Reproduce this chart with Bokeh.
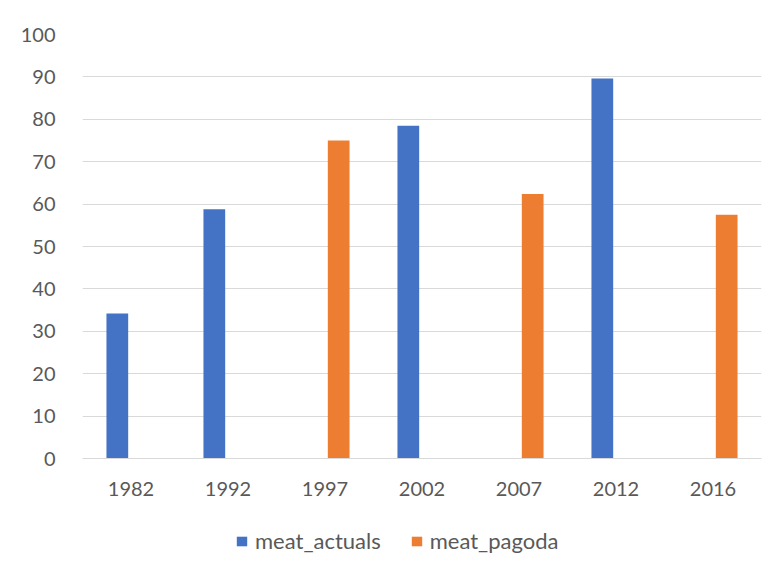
from bokeh.plotting import figure
from bokeh.layouts import column
from bokeh.models import ColumnDataSource, Legend, LegendItem, FixedTicker
from bokeh.transform import dodge
from bokeh.embed import file_html
from bokeh.resources import INLINE

years = ["1982", "1992", "1997", "2002", "2007", "2012", "2016"]
meat_actuals = [34.2, 58.8, float("nan"), 78.5, float("nan"), 89.6, float("nan")]
meat_pagoda = [float("nan"), float("nan"), 75.0, float("nan"), 62.4, float("nan"), 57.5]
y_ticks = [0, 10, 20, 30, 40, 50, 60, 70, 80, 90, 100]
series_names = ["meat_actuals", "meat_pagoda"]
series_colors = ["#4472C4", "#ED7D31"]

FONT = "Lato"
TXT = "#595959"
GRID = "#d9d9d9"

src = ColumnDataSource(dict(year=years, actuals=meat_actuals, pagoda=meat_pagoda))

p = figure(x_range=years, y_range=(0, 100), width=763, height=501,
           output_backend="svg", toolbar_location=None,
           min_border_left=82, min_border_right=2, min_border_top=34, min_border_bottom=43)
p.outline_line_color = None

p.vbar(x=dodge("year", -0.141, range=p.x_range), top="actuals", width=0.224,
       source=src, fill_color=series_colors[0], line_color=None)
p.vbar(x=dodge("year", 0.141, range=p.x_range), top="pagoda", width=0.224,
       source=src, fill_color=series_colors[1], line_color=None)

p.x_range.range_padding = 0
p.xgrid.grid_line_color = None
p.ygrid.grid_line_color = GRID
p.ygrid.grid_line_width = 1
p.yaxis.ticker = FixedTicker(ticks=y_ticks)

p.yaxis.axis_line_color = None
p.yaxis.major_tick_line_color = None
p.yaxis.minor_tick_line_color = None
p.yaxis.major_label_standoff = 21
p.yaxis.major_label_text_font = FONT
p.yaxis.major_label_text_font_size = "20px"
p.yaxis.major_label_text_color = TXT

p.xaxis.axis_line_color = GRID
p.xaxis.axis_line_width = 1
p.xaxis.major_tick_line_color = None
p.xaxis.minor_tick_line_color = None
p.xaxis.major_label_standoff = 17
p.xaxis.major_label_text_font = FONT
p.xaxis.major_label_text_font_size = "20px"
p.xaxis.major_label_text_color = TXT

# legend strip (separate small figure so the legend is not clipped)
p2 = figure(width=763, height=60, x_range=(0, 1), y_range=(0, 1),
            output_backend="svg", toolbar_location=None, min_border=0)
p2.axis.visible = False
p2.grid.grid_line_color = None
p2.outline_line_color = None
swatch = ColumnDataSource(dict(x=[float("nan")], top=[float("nan")]))
items = []
for name, col in zip(series_names, series_colors):
    rr = p2.vbar(x="x", top="top", width=0.1, source=swatch, fill_color=col, line_color=None)
    items.append(LegendItem(label=name, renderers=[rr]))

legend = Legend(items=items, orientation="horizontal", location=(153, 7))
legend.label_text_font = FONT
legend.label_text_font_size = "22px"
legend.label_text_color = TXT
legend.glyph_width = 13
legend.glyph_height = 12
legend.label_standoff = 7
legend.spacing = 29
legend.border_line_color = None
legend.background_fill_alpha = 0
legend.padding = 0
legend.margin = 0
p2.add_layout(legend, "center")

layout = column(p, p2, spacing=0)
open("out.html", "w").write(file_html(layout, INLINE))
